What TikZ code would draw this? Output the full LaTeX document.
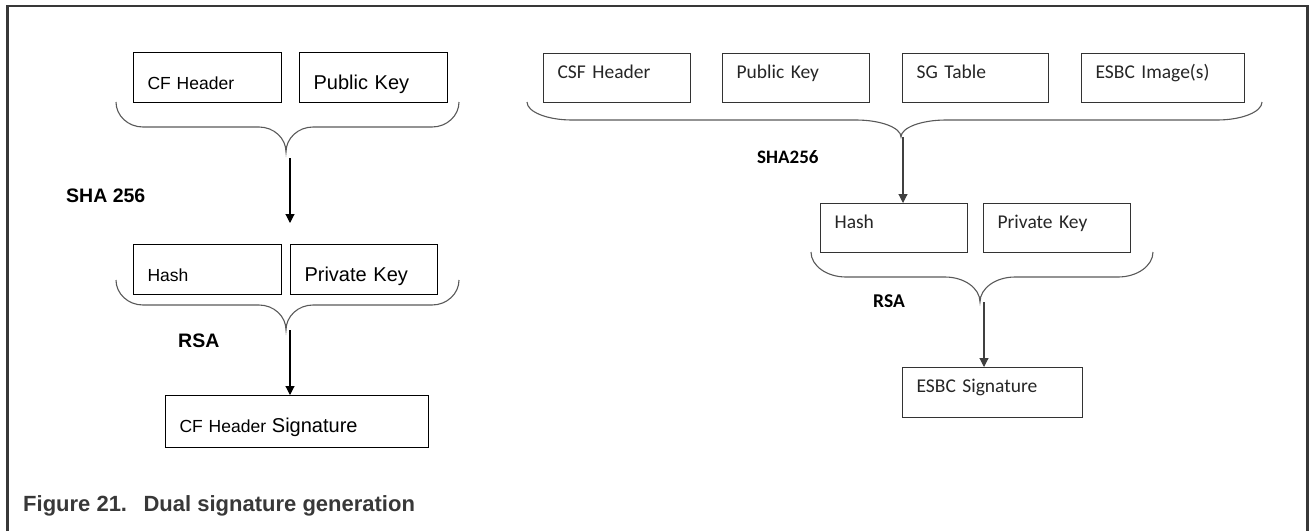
\documentclass[tikz,border=0pt]{standalone}
\usepackage{fontspec}
\setmainfont{Liberation Sans}
\newfontfamily\calibri{Carlito}
\usetikzlibrary{arrows.meta,positioning}

\tikzset{
  lbox/.style={draw=black, line width=1.1pt, anchor=north west, inner xsep=14pt, inner ysep=0pt,
    text height=37pt, text depth=13pt, align=left, font=\fontsize{17.5}{20}\selectfont},
  rbox/.style={draw=black!80, line width=1.2pt, anchor=north west, inner xsep=14pt, inner ysep=0pt,
    text height=25pt, text depth=24pt, align=left, text=black!85, font=\calibri\fontsize{19.5}{22}\selectfont},
  bracel/.style={draw=black!65, line width=1.1pt},
  flow/.style={-{Triangle[length=9pt,width=9pt]}, line width=1.1pt},
  algo/.style={anchor=base west, inner sep=0pt, font=\bfseries\fontsize{19.5}{22}\selectfont},
}

\begin{document}
\begin{tikzpicture}[x=1pt,y=-1pt]
    \useasboundingbox (0,0) rectangle (1310,531);
    \draw[line width=2.5pt, draw=black!78] (7.5,531) -- (7.5,6) -- (1307.5,6) -- (1307.5,531);

    % CF header signing
    \node[lbox, text width=120pt] (cfh) at (133,52) {CF Header};
    \node[lbox, text width=120pt, font=\fontsize{20}{22}\selectfont] (lpub) at (299,52) {Public Key};
    \node[algo] (lsha) at (66,202) {SHA 256};
    \node[lbox, text width=120pt] (lhash) at (133,244) {Hash};
    \node[lbox, text width=119pt, font=\fontsize{20}{22}\selectfont] (lpriv) at (290,244) {Private Key};
    \node[algo] (lrsa) at (178,347) {RSA};
    \node[lbox, text width=235pt, text depth=15pt] (lsig) at (165,395) {CF Header {\fontsize{20}{22}\selectfont Signature}};

    % ESBC signing
    \node[rbox, text width=119pt] (csf) at (543,53) {CSF Header};
    \node[rbox, text width=119pt] (rpub) at (722,53) {Public Key};
    \node[rbox, text width=118pt] (sgt) at (902,53) {SG Table};
    \node[rbox, text width=135pt] (esbc) at (1081,53) {ESBC Image(s)};
    \node[algo, font=\calibri\bfseries\fontsize{19}{22}\selectfont] (rsha) at (757,163) {SHA256};
    \node[rbox, text width=119pt] (rhash) at (820,203) {Hash};
    \node[rbox, text width=119pt] (rpriv) at (983,203) {Private Key};
    \node[algo, font=\calibri\bfseries\fontsize{19.5}{22}\selectfont] (rrsa) at (873,307) {RSA};
    \node[rbox, text width=152pt, text depth=25pt] (rsig) at (902,367) {ESBC Signature};

    % braces
    \foreach \xl/\xr/\xc/\yt/\ym/\yb/\r in {116/459/286/102/127/152/27, 116/459/286/280/305/330/27,
                                            527/1262/901/102/120/137/45, 811/1153/980/252/277/302/35}
        \draw[bracel] (\xl,\yt) .. controls (\xl,{\yt+0.55*(\ym-\yt)}) and ({\xl+0.45*\r},\ym) .. (\xl+\r,\ym)
            -- (\xc-\r,\ym) .. controls ({\xc-0.45*\r},\ym) and (\xc,{\yb-0.55*(\yb-\ym)}) .. (\xc,\yb)
            .. controls (\xc,{\yb-0.55*(\yb-\ym)}) and ({\xc+0.45*\r},\ym) .. (\xc+\r,\ym)
            -- (\xr-\r,\ym) .. controls ({\xr-0.45*\r},\ym) and (\xr,{\yt+0.55*(\ym-\yt)}) .. (\xr,\yt);

    \coordinate (lsrc) at (290,158);
    \coordinate (lsrc2) at (290,330);
    \coordinate (rsrc) at (903,137);
    \coordinate (rsrc2) at (984,302);
    \draw[flow] (lsrc) -- ([yshift=21pt]lpriv.north west);
    \draw[flow] (lsrc2) -- (lsig.north -| lpriv.west);
    \draw[flow, draw=black!75, fill=black!75] (rsrc) -- (rhash.north -| rsrc);
    \draw[flow, draw=black!75, fill=black!75] (rsrc2) -- (rsig.north -| rsrc2);

    \node[anchor=base west, inner sep=0pt, text=black!78, font=\bfseries\fontsize{22}{25}\selectfont] (cap) at (23,511)
        {Figure 21.\hspace{0.75em}Dual signature generation};
\end{tikzpicture}
\end{document}
